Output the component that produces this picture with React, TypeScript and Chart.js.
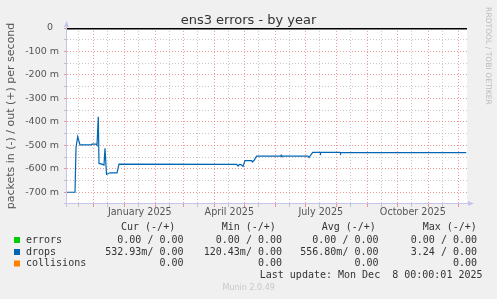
import { useEffect, useRef } from "react";
import { Chart, registerables } from "chart.js";

Chart.register(...registerables);

// ---- texts ----
const TITLE = "ens3 errors - by year";
const Y_TITLE = "packets in (-) / out (+) per second";
const SIDE_TEXT = "RRDTOOL / TOBI OETIKER";
const LAST_UPDATE = "Last update: Mon Dec  8 00:00:01 2025";
const FOOTER = "Munin 2.0.49";

// ---- x axis (days since 1 Jan 2025) ----
const X_MIN = -57.3;
const X_MAX = 342.7;
const monthStartDays = [-31, 0, 31, 59, 90, 120, 151, 181, 212, 243, 273, 304, 334];
const midMonthDays = [-46, -17, 14, 45, 73, 104, 134, 165, 195, 226, 257, 287, 318];
const monthLabelDays = [15.5, 105, 196.5, 288.5];
const monthLabels = ["January 2025", "April 2025", "July 2025", "October 2025"];

// ---- y axis (packets per second) ----
const Y_MIN = -0.75;
const Y_MAX = 0;
const yMajorTicks = [0, -0.1, -0.2, -0.3, -0.4, -0.5, -0.6, -0.7];
const yMinorTicks = [-0.05, -0.15, -0.25, -0.35, -0.45, -0.55, -0.65];

// ---- drops (in, negative direction) ----
const dropsDays = [
  -57.3, -49.3, -48.3, -46.6, -44.3, -33.3, -32.3, -28.3, -27.3, -26, -25.3, -22.3,
  -20.3, -19.3, -17.8, -14.3, -7.3, -5.3, 112.4, 113.7, 115.3, 117, 118.7, 120.7,
  127.4, 128, 129.7, 132.3, 156.4, 156.9, 157.4, 183.7, 184.7, 188.4, 195.7, 196.2,
  196.7, 215.7, 216.2, 216.7, 342,
];
const dropsValues = [
  -0.7, -0.7, -0.51, -0.463, -0.498, -0.498, -0.495, -0.495, -0.5, -0.378, -0.577, -0.58,
  -0.584, -0.513, -0.624, -0.617, -0.617, -0.58, -0.581, -0.588, -0.581, -0.583, -0.59, -0.565,
  -0.565, -0.571, -0.565, -0.546, -0.546, -0.542, -0.546, -0.546, -0.552, -0.53, -0.53, -0.534,
  -0.53, -0.53, -0.534, -0.531, -0.531,
];

// ---- legend ----
const legendNames = ["errors", "drops", "collisions"];
const legendColors = ["#00cc00", "#0066b3", "#ff8000"];
const colHeaders = ["Cur (-/+)", "Min (-/+)", "Avg (-/+)", "Max (-/+)"];
const errorsStats = ["0.00 / 0.00", "0.00 / 0.00", "0.00 / 0.00", "0.00 / 0.00"];
const dropsStats = ["532.93m/ 0.00", "120.43m/ 0.00", "556.80m/ 0.00", "3.24 / 0.00"];
const collisionsStats = ["0.00", "0.00", "0.00", "0.00"];

const MAJOR = "rgba(235,80,80,0.58)";
const MINOR = "rgba(165,165,165,0.6)";
const NONE = "rgba(0,0,0,0)";
const AXIS = "#c4c4ec";

const near = (a: number, list: number[]) => list.some((v) => Math.abs(v - a) < 1e-6);

export default function App() {
  const ref = useRef<HTMLCanvasElement>(null);

  useEffect(() => {
    document.body.style.margin = "0";
    const canvas = ref.current!;

    const xTicks = [...monthStartDays, ...midMonthDays, ...monthLabelDays]
      .filter((v) => v >= X_MIN && v <= X_MAX)
      .sort((a, b) => a - b);
    const yTicks = [...yMajorTicks, ...yMinorTicks].sort((a, b) => a - b);

    const xColor = (ctx: any) => {
      const v = ctx.tick ? ctx.tick.value : NaN;
      if (near(v, monthStartDays)) return MAJOR;
      if (near(v, midMonthDays)) return MINOR;
      return NONE;
    };
    const yColor = (ctx: any) => {
      const v = ctx.tick ? ctx.tick.value : NaN;
      if (near(v, yMajorTicks)) return MAJOR;
      if (near(v, yMinorTicks)) return MINOR;
      return NONE;
    };

    const bgPlugin = {
      id: "rrdBackground",
      beforeDraw(chart: any) {
        const { ctx, chartArea } = chart;
        ctx.save();
        ctx.fillStyle = "#f0f0f0";
        ctx.fillRect(0, 0, chart.width, chart.height);
        ctx.fillStyle = "#ffffff";
        ctx.fillRect(chartArea.left, chartArea.top, chartArea.right - chartArea.left, chartArea.bottom - chartArea.top);
        ctx.restore();
      },
    };

    const decorPlugin = {
      id: "rrdDecor",
      afterDatasetsDraw(chart: any) {
        const { ctx, chartArea, scales } = chart;
        const y0 = scales.y.getPixelForValue(0);
        ctx.save();
        ctx.fillStyle = "#000000";
        ctx.fillRect(chartArea.left, Math.round(y0), chartArea.right - chartArea.left, 1.5);
        ctx.restore();
      },
      afterDraw(chart: any) {
        const { ctx, chartArea } = chart;
        const { left, right, top, bottom } = chartArea;
        ctx.save();
        // axes
        ctx.strokeStyle = AXIS;
        ctx.lineWidth = 1;
        ctx.beginPath();
        ctx.moveTo(left - 0.5, bottom + 3);
        ctx.lineTo(left - 0.5, top - 2);
        ctx.moveTo(left - 3, bottom - 0.5);
        ctx.lineTo(right + 2, bottom - 0.5);
        ctx.stroke();
        ctx.fillStyle = AXIS;
        ctx.beginPath();
        ctx.moveTo(left - 3, top - 1);
        ctx.lineTo(left + 2, top - 1);
        ctx.lineTo(left - 0.5, top - 7);
        ctx.closePath();
        ctx.fill();
        ctx.beginPath();
        ctx.moveTo(right + 1, bottom - 3);
        ctx.lineTo(right + 1, bottom + 2);
        ctx.lineTo(right + 7, bottom - 0.5);
        ctx.closePath();
        ctx.fill();

        // title
        ctx.fillStyle = "#333333";
        ctx.font = "13px 'DejaVu Sans'";
        ctx.textAlign = "center";
        ctx.textBaseline = "alphabetic";
        ctx.fillText(TITLE, 248.5, 24);

        // y title
        ctx.save();
        ctx.translate(11, (top + bottom) / 2);
        ctx.rotate(-Math.PI / 2);
        ctx.font = "11px 'DejaVu Sans'";
        ctx.fillStyle = "#555555";
        ctx.textAlign = "center";
        ctx.textBaseline = "middle";
        ctx.fillText(Y_TITLE, 0, 0);
        ctx.restore();

        // side text
        ctx.save();
        ctx.translate(488, 56);
        ctx.rotate(Math.PI / 2);
        ctx.font = "7.6px 'DejaVu Sans'";
        ctx.fillStyle = "#bbbbbb";
        ctx.textAlign = "center";
        ctx.textBaseline = "middle";
        ctx.fillText(SIDE_TEXT, 0, 0);
        ctx.restore();

        // legend
        ctx.font = "10px 'DejaVu Sans Mono'";
        ctx.fillStyle = "#333333";
        ctx.textBaseline = "middle";
        ctx.textAlign = "left";
        const headerX = [121, 221.7, 321.7, 422.7];
        colHeaders.forEach((h, i) => ctx.fillText(h, headerX[i], 227.5));
        const rowY = [240, 252, 263.5];
        const valRight = [183.5, 282, 378.5, 477];
        const rows = [errorsStats, dropsStats, collisionsStats];
        legendNames.forEach((name, r) => {
          ctx.fillStyle = legendColors[r];
          ctx.fillRect(14, rowY[r] - 3, 6, 6);
          ctx.fillStyle = "#333333";
          ctx.textAlign = "left";
          ctx.fillText(name, 26, rowY[r]);
          ctx.textAlign = "right";
          rows[r].forEach((s, c) => ctx.fillText(s, valRight[c], rowY[r]));
        });
        ctx.textAlign = "right";
        ctx.fillText(LAST_UPDATE, 482.5, 275.5);

        ctx.font = "8px 'DejaVu Sans'";
        ctx.fillStyle = "#c8c8c8";
        ctx.textAlign = "center";
        ctx.fillText(FOOTER, 248.7, 288);
        ctx.restore();
      },
    };

    const chart = new Chart(canvas, {
      type: "line",
      data: {
        datasets: [
          {
            label: "drops",
            data: dropsDays.map((d, i) => ({ x: d, y: dropsValues[i] })),
            borderColor: "#0066b3",
            borderWidth: 1.2,
            pointRadius: 0,
            tension: 0,
            fill: false,
          },
        ],
      },
      options: {
        responsive: false,
        animation: false,
        events: [],
        layout: { padding: { left: 0, top: 28, right: 30, bottom: 0 } },
        plugins: { legend: { display: false }, tooltip: { enabled: false } },
        scales: {
          x: {
            type: "linear",
            min: X_MIN,
            max: X_MAX,
            afterBuildTicks: (scale: any) => {
              scale.ticks = xTicks.map((v) => ({ value: v }));
            },
            afterFit: (scale: any) => {
              scale.height = 95;
            },
            grid: {
              color: xColor,
              tickColor: xColor,
              lineWidth: 1,
              tickLength: 3,
              drawTicks: true,
            },
            border: { display: false, dash: [1, 2] },
            ticks: {
              autoSkip: false,
              maxRotation: 0,
              minRotation: 0,
              padding: 0,
              color: "#555555",
              font: { family: "'DejaVu Sans'", size: 9.6 },
              callback: (value: any) => {
                const idx = monthLabelDays.findIndex((d) => Math.abs(d - Number(value)) < 1e-6);
                return idx >= 0 ? monthLabels[idx] : "";
              },
            },
          },
          y: {
            type: "linear",
            min: Y_MIN,
            max: Y_MAX,
            afterBuildTicks: (scale: any) => {
              scale.ticks = yTicks.map((v) => ({ value: v }));
            },
            afterFit: (scale: any) => {
              scale.width = 67;
            },
            grid: {
              color: yColor,
              tickColor: yColor,
              lineWidth: 1,
              tickLength: 3,
              drawTicks: true,
            },
            border: { display: false, dash: [1, 2] },
            ticks: {
              autoSkip: false,
              padding: 5,
              color: "#555555",
              font: { family: "'DejaVu Sans'", size: 9.5 },
              callback: (value: any) => {
                const v = Number(value);
                if (!near(v, yMajorTicks)) return "";
                const m = Math.round(v * 1000);
                return m === 0 ? "0  " : `${m} m`;
              },
            },
          },
        },
      },
      plugins: [bgPlugin, decorPlugin],
    });

    return () => chart.destroy();
  }, []);

  return (
    <div style={{ width: 497, height: 299 }}>
      <canvas ref={ref} width={497} height={299} style={{ display: "block" }} />
    </div>
  );
}
